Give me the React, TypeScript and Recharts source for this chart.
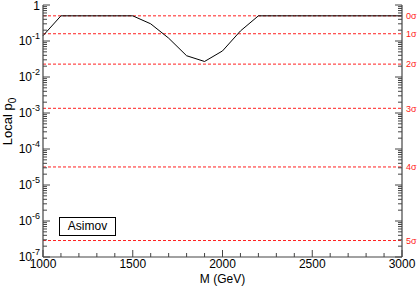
import { LineChart, Line, XAxis, YAxis, ReferenceLine, Legend } from 'recharts';

const masses = [
  1000, 1100, 1200, 1300, 1400, 1500, 1600, 1700, 1800, 1900, 2000,
  2100, 2200, 2300, 2400, 2500, 2600, 2700, 2800, 2900, 3000,
];
const localP0 = [
  0.14, 0.5, 0.5, 0.5, 0.5, 0.5, 0.3, 0.12, 0.039, 0.027, 0.053,
  0.19, 0.5, 0.5, 0.5, 0.5, 0.5, 0.5, 0.5, 0.5, 0.5,
];
const sigmaLabels = ['0σ', '1σ', '2σ', '3σ', '4σ', '5σ'];
const sigmaP = [0.5, 0.159, 0.0228, 0.00135, 3.17e-5, 2.87e-7];
const xMajor = [1000, 1500, 2000, 2500, 3000];
const decades = [1e-7, 1e-6, 1e-5, 1e-4, 1e-3, 1e-2, 1e-1, 1];

const data = masses.map((m, i) => ({ m, p: localP0[i] }));

const yTicks: number[] = [];
decades.forEach((d, i) => {
  yTicks.push(d);
  if (i < decades.length - 1) {
    for (let k = 2; k <= 9; k++) yTicks.push(d * k);
  }
});

const FONT = '"Liberation Sans", Arial, sans-serif';
const AXIS = '#444';
const RED = '#ff2020';

const isDecade = (v: number) => {
  const l = Math.log10(v);
  return Math.abs(l - Math.round(l)) < 1e-6;
};

const LeftTick = (props: any) => {
  const { x, y, payload } = props;
  const v = payload.value;
  const major = isDecade(v);
  const exp = Math.round(Math.log10(v));
  return (
    <g>
      <line x1={x} y1={y} x2={x + (major ? 7 : 4)} y2={y} stroke={AXIS} />
      {major &&
        (exp === 0 ? (
          <text x={x - 3} y={y + 5} textAnchor="end" fontSize={12} fill="#000" fontFamily={FONT}>
            1
          </text>
        ) : (
          <text x={x - 3} y={y + 4} textAnchor="end" fontSize={12} fill="#000" fontFamily={FONT}>
            10
            <tspan dy={-6} fontSize={9}>
              {exp}
            </tspan>
          </text>
        ))}
    </g>
  );
};

const RightTick = (props: any) => {
  const { x, y, payload } = props;
  const major = isDecade(payload.value);
  return <line x1={x} y1={y} x2={x - (major ? 7 : 4)} y2={y} stroke={AXIS} />;
};

const BottomTick = (props: any) => {
  const { x, y, payload } = props;
  const major = xMajor.includes(payload.value);
  return (
    <g>
      <line x1={x} y1={y} x2={x} y2={y - (major ? 7 : 4)} stroke={AXIS} />
      {major && (
        <text x={x} y={y + 11} textAnchor="middle" fontSize={12} fill="#000" fontFamily={FONT}>
          {payload.value}
        </text>
      )}
    </g>
  );
};

const TopTick = (props: any) => {
  const { x, y, payload } = props;
  const major = xMajor.includes(payload.value);
  return <line x1={x} y1={y} x2={x} y2={y + (major ? 7 : 4)} stroke={AXIS} />;
};

const LegendBox = () => (
  <div
    style={{
      border: '1px solid #000',
      fontFamily: FONT,
      fontSize: 12,
      width: 55,
      height: 17,
      lineHeight: '17px',
      textAlign: 'center',
      background: '#fff',
    }}
  >
    Asimov
  </div>
);

export default function App() {
  return (
    <div style={{ position: 'absolute', left: 0, top: 0, width: 417, height: 286 }}>
      <LineChart width={417} height={286} data={data} margin={{ top: 5, right: 0, bottom: 0, left: 0 }}>
        <XAxis
          dataKey="m"
          type="number"
          domain={[1000, 3000]}
          ticks={masses}
          interval={0}
          tick={<BottomTick />}
          tickSize={0}
          tickMargin={0}
          height={29}
          axisLine={{ stroke: AXIS, strokeWidth: 1.2 }}
          label={{ value: 'M (GeV)', position: 'insideBottom', offset: 3, fontSize: 12, fill: '#000', fontFamily: FONT }}
        />
        <XAxis
          xAxisId="top"
          orientation="top"
          dataKey="m"
          type="number"
          domain={[1000, 3000]}
          ticks={masses}
          interval={0}
          tick={<TopTick />}
          tickSize={0}
          tickMargin={0}
          height={0}
          axisLine={{ stroke: AXIS, strokeWidth: 1.2 }}
        />
        <YAxis
          type="number"
          scale="log"
          domain={[1e-7, 1]}
          ticks={yTicks}
          interval={0}
          allowDataOverflow
          tick={<LeftTick />}
          tickSize={0}
          tickMargin={0}
          width={43}
          axisLine={{ stroke: AXIS, strokeWidth: 1.2 }}
          label={
            <text x={12} y={131} transform="rotate(-90 12 131)" textAnchor="middle" fontSize={13} fill="#000" fontFamily={FONT}>
              Local p
              <tspan dy={4} fontSize={10}>0</tspan>
            </text>
          }
        />
        <YAxis
          yAxisId="right"
          orientation="right"
          type="number"
          scale="log"
          domain={[1e-7, 1]}
          ticks={yTicks}
          interval={0}
          allowDataOverflow
          tick={<RightTick />}
          tickSize={0}
          tickMargin={0}
          width={15}
          axisLine={{ stroke: AXIS, strokeWidth: 1.2 }}
        />
        {sigmaP.map((p, i) => (
          <ReferenceLine
            key={sigmaLabels[i]}
            y={p}
            stroke={RED}
            strokeDasharray="3 2"
            label={{ value: sigmaLabels[i], position: 'right', offset: 4, fontSize: 9, fill: RED, fontFamily: FONT }}
          />
        ))}
        <Line
          type="linear"
          dataKey="p"
          stroke="#000"
          strokeWidth={1}
          dot={false}
          isAnimationActive={false}
        />
        <Legend
          layout="vertical"
          align="center"
          verticalAlign="middle"
          content={<LegendBox />}
          wrapperStyle={{ left: 59, top: 217, width: 57 }}
        />
      </LineChart>
    </div>
  );
}
